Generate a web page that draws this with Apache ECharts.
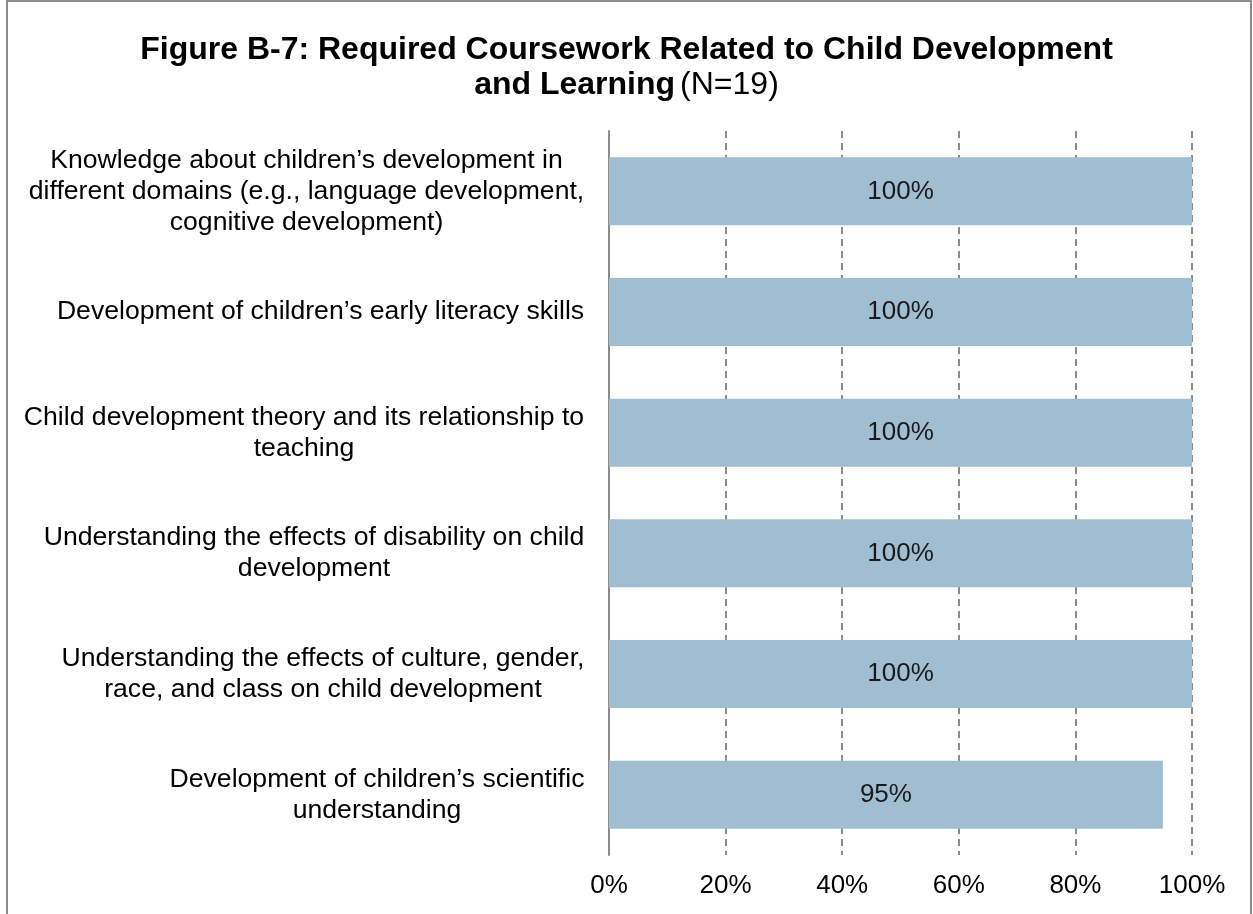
<!DOCTYPE html>
<html><head><meta charset="utf-8">
<script src="https://cdn.jsdelivr.net/npm/echarts@6/dist/echarts.min.js"></script>
<style>
html,body{margin:0;padding:0;background:#fff;overflow:hidden;}
#wrap{position:relative;width:1253px;height:914px;}
#frame{position:absolute;left:6px;top:0;right:1px;bottom:-10px;border:2px solid #8c8c8c;}
#c{position:absolute;left:0;top:0;width:1253px;height:914px;}
</style></head>
<body><div id="wrap"><div id="frame"></div><div id="c"></div></div>
<script>
const categories = [
  "Knowledge about children\u2019s development in\ndifferent domains (e.g., language development,\ncognitive development)",
  "Development of children\u2019s early literacy skills",
  "Child development theory and its relationship to\nteaching",
  "Understanding the effects of disability on child\ndevelopment",
  "Understanding the effects of culture, gender,\nrace, and class on child development",
  "Development of children\u2019s scientific\nunderstanding"
];
const values = [100, 100, 100, 100, 100, 95];
const tickLabels = ["0%", "20%", "40%", "60%", "80%", "100%"];

const fontFamily = '"Liberation Sans", Arial, sans-serif';
const labelSize = 26;
const catSize = 26.6;

// measure each label's widest line so lines can be centred within a right-aligned block
const ctx = document.createElement('canvas').getContext('2d');
ctx.font = catSize + 'px ' + fontFamily;
const rich = {};
categories.forEach((c, i) => {
  const w = Math.max(...c.split('\n').map(l => ctx.measureText(l).width));
  rich['r' + i] = {width: Math.ceil(w) + 1, align: 'center', fontSize: catSize, lineHeight: 31,
    color: '#000', fontFamily: fontFamily};
});

const chart = echarts.init(document.getElementById('c'));
chart.setOption({
  animation: false,
  title: {
    left: 'center', top: 28,
    text: '{b|Figure B-7: Required Coursework Related to Child Development}\n{b|and Learning} {n|(N=19)}',
    textStyle: {
      fontFamily: fontFamily,
      rich: {
        b: {fontSize: 32, fontWeight: 'bold', color: '#000', fontFamily: fontFamily, lineHeight: 35},
        n: {fontSize: 32, fontWeight: 'normal', color: '#000', fontFamily: fontFamily, lineHeight: 35}
      }
    }
  },
  grid: {left: 609, right: 61, top: 131, bottom: 59, containLabel: false},
  xAxis: {
    type: 'value', min: 0, max: 100, interval: 20,
    axisLine: {show: false}, axisTick: {show: false},
    axisLabel: {formatter: (v) => tickLabels[Math.round(v / 20)], fontSize: labelSize, color: '#000',
      fontFamily: fontFamily, margin: 18},
    splitLine: {show: true, lineStyle: {type: [7, 5], color: '#8c8c8c', width: 2}}
  },
  yAxis: {
    type: 'category', data: categories, inverse: true,
    axisLine: {show: true, lineStyle: {color: '#8c8c8c', width: 2}},
    axisTick: {show: false},
    axisLabel: {
      margin: 24, align: 'right', rich: rich,
      formatter: (v, i) => v.split('\n').map(l => '{r' + i + '|' + l + '}').join('\n')
    }
  },
  series: [{
    type: 'bar', data: values, barWidth: 68,
    itemStyle: {color: '#a0bed2'},
    label: {show: true, position: 'inside', formatter: p => p.value + '%', fontSize: labelSize,
      color: '#1a1a1a', fontFamily: fontFamily}
  }]
});
</script></body></html>
